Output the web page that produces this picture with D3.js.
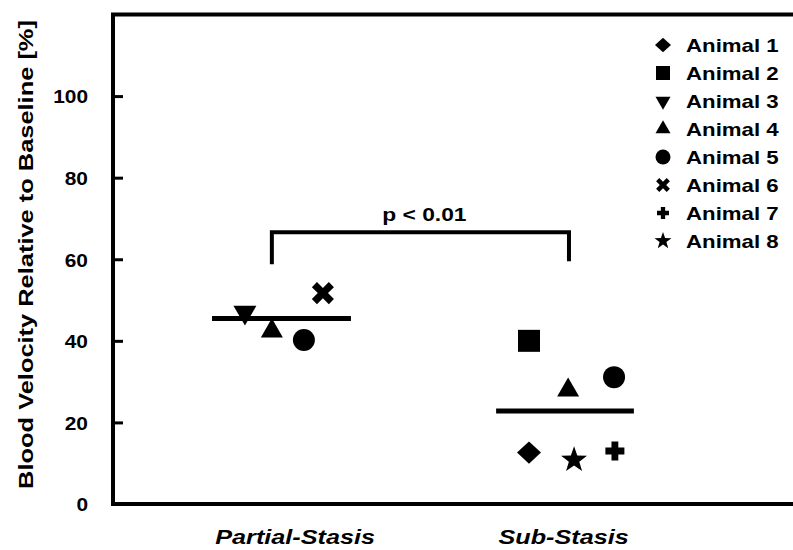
<!DOCTYPE html>
<html>
<head>
<meta charset="utf-8">
<script src="https://cdn.jsdelivr.net/npm/d3@7"></script>
<style>
  html, body { margin: 0; padding: 0; background: #fff; }
  svg { display: block; }
  text { font-family: "Liberation Sans", Arial, Helvetica, sans-serif; font-weight: bold; fill: #000; }
</style>
</head>
<body>
<svg id="chart" width="793" height="550"></svg>
<script>
// ---------------- data ----------------
const categories = ["Partial-Stasis", "Sub-Stasis"];
const categoryPos = [1, 2];           // position of each group on the x scale
const labelPos = [1.048, 1.995];      // where the group labels sit
const animals = ["Animal 1", "Animal 2", "Animal 3", "Animal 4", "Animal 5", "Animal 6", "Animal 7", "Animal 8"];
const yTicks = [0, 20, 40, 60, 80, 100];

// individual measurements: animal index, x position (group units), value [%]
const pointAnimal = [2, 3, 4, 5,   0, 1, 3, 4, 6, 7];
const pointX      = [0.871, 0.966, 1.079, 1.146,   1.873, 1.873, 2.011, 2.173, 2.176, 2.032];
const pointValue  = [47.0, 42.4, 40.2, 51.7,   12.6, 40.0, 27.9, 31.1, 13.0, 10.8];

// group means
const meanValue = [45.5, 22.8];
const meanHalfWidth = [0.245, 0.243];

// significance bracket
const bracketX = [0.966, 2.014];
const bracketTop = 66.6;
const bracketBottom = [58.8, 59.5];
const bracketLabel = "p < 0.01";

// ---------------- layout ----------------
const svg = d3.select("#chart");
const W = 793, H = 550;
const mLeft = 113, mTop = 14.5, mBottom = 504;

const x = d3.scaleLinear().domain([1, 2]).range([281.5, 565]);
const y = d3.scaleLinear().domain([0, 120]).range([mBottom, mTop]);

// text in the reference is drawn horizontally widened
function widen(sel, k) {
  sel.each(function () {
    const n = this.getComputedTextLength();
    d3.select(this).attr("textLength", n * k).attr("lengthAdjust", "spacingAndGlyphs");
  });
}

// custom symbol shapes (size = nominal width in px)
const shapes = {
  diamond: { draw(c, s) { const w = s / 2, h = s * 0.46; c.moveTo(0, -h); c.lineTo(w, 0); c.lineTo(0, h); c.lineTo(-w, 0); c.closePath(); } },
  square:  { draw(c, s) { const r = s / 2; c.rect(-r, -r, s, s); } },
  triDown: { draw(c, s) { const h = s * 0.866; c.moveTo(-s / 2, -h / 3); c.lineTo(s / 2, -h / 3); c.lineTo(0, 2 * h / 3); c.closePath(); } },
  triUp:   { draw(c, s) { const h = s * 0.866; c.moveTo(-s / 2, h / 3); c.lineTo(s / 2, h / 3); c.lineTo(0, -2 * h / 3); c.closePath(); } },
  circle:  { draw(c, s) { const r = s / 2; c.moveTo(r, 0); c.arc(0, 0, r, 0, 2 * Math.PI); } },
  cross:   { draw(c, s) {
      const a = s / 2, t = s * 0.15, k = Math.SQRT1_2;
      const pts = [[-t, -a], [t, -a], [t, -t], [a, -t], [a, t], [t, t], [t, a], [-t, a], [-t, t], [-a, t], [-a, -t], [-t, -t]];
      pts.forEach((p, i) => { const px = (p[0] - p[1]) * k, py = (p[0] + p[1]) * k; i ? c.lineTo(px, py) : c.moveTo(px, py); });
      c.closePath(); } },
  plus:    { draw(c, s) {
      const a = s / 2, t = s * 0.18;
      const pts = [[-t, -a], [t, -a], [t, -t], [a, -t], [a, t], [t, t], [t, a], [-t, a], [-t, t], [-a, t], [-a, -t], [-t, -t]];
      pts.forEach((p, i) => i ? c.lineTo(p[0], p[1]) : c.moveTo(p[0], p[1]));
      c.closePath(); } },
  star:    { draw(c, s) {
      const R = s / 2 * 1.05, r = R * 0.4;
      for (let i = 0; i < 10; i++) {
        const ang = -Math.PI / 2 + i * Math.PI / 5, rr = i % 2 ? r : R;
        const px = rr * Math.cos(ang), py = rr * Math.sin(ang);
        i ? c.lineTo(px, py) : c.moveTo(px, py);
      }
      c.closePath(); } }
};
const animalShape = [shapes.diamond, shapes.square, shapes.triDown, shapes.triUp, shapes.circle, shapes.cross, shapes.plus, shapes.star];
const plotSize = [24, 22, 23, 22, 22, 24, 19, 26];
const legendSize = [16, 14, 15, 15, 15, 15, 12, 17];

// ---------------- frame ----------------
svg.append("path")
  .attr("d", `M${W + 5},${mTop} H${mLeft} V${mBottom} H${W + 5}`)
  .attr("fill", "none").attr("stroke", "#000").attr("stroke-width", 4);

// y axis ticks (inward) and labels
const yAxis = d3.axisRight(y).tickValues(yTicks).tickSize(10).tickFormat(d3.format("d"));
const gy = svg.append("g").attr("transform", `translate(${mLeft},0)`).call(yAxis);
gy.select(".domain").remove();
gy.selectAll(".tick line").attr("stroke", "#000").attr("stroke-width", 3);
gy.selectAll(".tick text")
  .attr("x", -25).attr("text-anchor", "end").attr("dy", "0.36em")
  .style("font-family", '"Liberation Sans", Arial, sans-serif')
  .style("font-weight", "bold").style("font-size", "19px").attr("fill", "#000")
  .call(widen, 1.1);

// y title
svg.append("text")
  .attr("transform", `translate(33,${(22 + 487) / 2}) rotate(-90)`)
  .attr("text-anchor", "middle")
  .style("font-size", "21px")
  .text("Blood Velocity Relative to Baseline [%]")
  .call(widen, 1.21);

// group labels
svg.selectAll(".cat").data(categories).join("text")
  .attr("class", "cat")
  .attr("x", (d, i) => x(labelPos[i])).attr("y", 544)
  .attr("text-anchor", "middle")
  .style("font-size", "21px").style("font-style", "italic")
  .text(d => d)
  .call(widen, 1.2);

// mean lines
svg.selectAll(".mean").data(meanValue).join("line")
  .attr("class", "mean")
  .attr("x1", (d, i) => x(categoryPos[i] - meanHalfWidth[i]))
  .attr("x2", (d, i) => x(categoryPos[i] + meanHalfWidth[i]))
  .attr("y1", d => y(d)).attr("y2", d => y(d))
  .attr("stroke", "#000").attr("stroke-width", 5);

// points
svg.selectAll(".pt").data(pointValue).join("path")
  .attr("class", "pt")
  .attr("transform", (d, i) => `translate(${x(pointX[i])},${y(d)})`)
  .attr("d", (d, i) => d3.symbol().type(animalShape[pointAnimal[i]]).size(plotSize[pointAnimal[i]])())
  .attr("fill", "#000");

// significance bracket
svg.append("path")
  .attr("d", `M${x(bracketX[0])},${y(bracketBottom[0])} V${y(bracketTop)} H${x(bracketX[1])} V${y(bracketBottom[1])}`)
  .attr("fill", "none").attr("stroke", "#000").attr("stroke-width", 4);
svg.append("text")
  .attr("x", (x(bracketX[0]) + x(bracketX[1])) / 2 + 4).attr("y", 221)
  .attr("text-anchor", "middle")
  .style("font-size", "19px")
  .text(bracketLabel)
  .call(widen, 1.2);

// legend
const lg = svg.selectAll(".lg").data(animals).join("g")
  .attr("class", "lg")
  .attr("transform", (d, i) => `translate(663,${45 + i * 28})`);
lg.append("path")
  .attr("d", (d, i) => d3.symbol().type(animalShape[i]).size(legendSize[i])())
  .attr("fill", "#000");
lg.append("text")
  .attr("x", 23).attr("dy", "0.36em")
  .style("font-size", "19px")
  .text(d => d)
  .call(widen, 1.17);
</script>
</body>
</html>
